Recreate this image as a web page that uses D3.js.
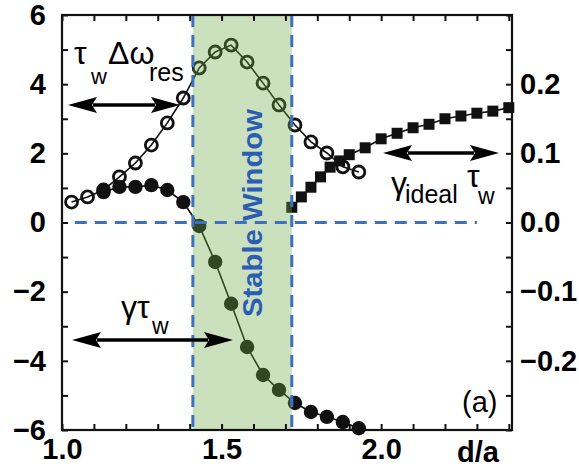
<!DOCTYPE html>
<html>
<head>
<meta charset="utf-8">
<script src="https://cdn.jsdelivr.net/npm/d3@7"></script>
<style>
  html, body { margin: 0; padding: 0; background: #ffffff; }
  svg { display: block; }
  text { font-family: "Liberation Sans", Arial, Helvetica, sans-serif; }
</style>
</head>
<body>
<svg id="chart" width="579" height="474"></svg>
<script>
// wall distance d/a sampled for the rotating-wall scan
const dOverA = [1.03, 1.08, 1.13, 1.18, 1.23, 1.28, 1.33, 1.38, 1.43, 1.48,
                1.53, 1.58, 1.63, 1.68, 1.73, 1.78, 1.83, 1.88, 1.93];
// τw Δω_res (open circles, left axis)
const resShift = [0.59, 0.74, 0.94, 1.32, 1.72, 2.24, 2.88, 3.60, 4.47, 4.93,
                  5.13, 4.64, 4.03, 3.40, 2.82, 2.33, 2.01, 1.61, 1.46];
// γ τw (filled circles, left axis); no value at the first two wall positions
const growth = [null, null, 0.88, 1.03, 1.03, 1.08, 0.94, 0.59, -0.10, -1.14,
                -2.35, -3.60, -4.41, -4.84, -5.22, -5.48, -5.62, -5.77, -5.95];
// ideal-wall growth γ_ideal τw (filled squares, right axis)
const dIdeal = [1.72, 1.75, 1.78, 1.81, 1.84, 1.87, 1.90, 1.95, 2.00, 2.05,
                2.10, 2.15, 2.20, 2.25, 2.30, 2.35, 2.40];
const idealGrowth = [0.022, 0.037, 0.051, 0.066, 0.080, 0.089, 0.098, 0.108, 0.121, 0.129,
                     0.137, 0.142, 0.150, 0.154, 0.158, 0.161, 0.166];
// stable window limits in d/a
const stableWindow = [1.41, 1.72];
// tick values and labels
const xTicks = [1.0, 1.1, 1.2, 1.3, 1.4, 1.5, 1.6, 1.7, 1.8, 1.9, 2.0, 2.1, 2.2, 2.3, 2.4];
const xLabels = [1.0, 1.5, 2.0];
const yLeftTicks = [-6, -5, -4, -3, -2, -1, 0, 1, 2, 3, 4, 5, 6];
const yLeftLabels = [-6, -4, -2, 0, 2, 4, 6];
const yRightTicks = [-0.3, -0.25, -0.2, -0.15, -0.1, -0.05, 0, 0.05, 0.1, 0.15, 0.2, 0.25, 0.3];
const yRightLabels = [-0.2, -0.1, 0.0, 0.1, 0.2];

const svg = d3.select("#chart");
const W = 579, H = 474;
const m = { left: 62, right: 67, top: 15, bottom: 44 };
const x0 = m.left, x1 = W - m.right, y0 = m.top, y1 = H - m.bottom;

const x = d3.scaleLinear().domain([1.0, 2.41]).range([x0, x1]);
const yL = d3.scaleLinear().domain([-6, 6]).range([y1, y0]);
const yR = d3.scaleLinear().domain([-0.3, 0.3]).range([y1, y0]);

svg.append("rect").attr("width", W).attr("height", H).attr("fill", "#fff");

const ink = "#111";
const blue = "#3f6fbf";

// series lines
const lineL = d3.line().defined(d => d !== null).x((d, i) => x(dOverA[i])).y(d => yL(d));
const lineR = d3.line().x((d, i) => x(dIdeal[i])).y(d => yR(d));

svg.append("path").attr("d", lineL(resShift)).attr("fill", "none")
  .attr("stroke", ink).attr("stroke-width", 1.6);
svg.append("path").attr("d", lineL(growth)).attr("fill", "none")
  .attr("stroke", ink).attr("stroke-width", 1.6);
svg.append("path").attr("d", lineR(idealGrowth)).attr("fill", "none")
  .attr("stroke", ink).attr("stroke-width", 1.6);

// filled circles
const growthPts = growth.map((v, i) => ({ d: dOverA[i], v })).filter(p => p.v !== null);
svg.append("g").selectAll("circle").data(growthPts).join("circle")
  .attr("cx", p => x(p.d)).attr("cy", p => yL(p.v)).attr("r", 7.2)
  .attr("fill", ink);
// open circles
svg.append("g").selectAll("circle").data(resShift).join("circle")
  .attr("cx", (d, i) => x(dOverA[i])).attr("cy", d => yL(d)).attr("r", 6)
  .attr("fill", "none").attr("stroke", ink).attr("stroke-width", 2.8);
// squares
svg.append("g").selectAll("rect").data(idealGrowth).join("rect")
  .attr("x", (d, i) => x(dIdeal[i]) - 5.5).attr("y", d => yR(d) - 5.5)
  .attr("width", 11).attr("height", 11).attr("fill", ink);

// stable window shading
svg.append("rect")
  .attr("x", x(stableWindow[0])).attr("y", y0)
  .attr("width", x(stableWindow[1]) - x(stableWindow[0])).attr("height", y1 - y0)
  .attr("fill", "rgb(112,168,72)").attr("fill-opacity", 0.36);

// dashed guides
const dash = "12,8";
svg.append("line").attr("x1", x(1.04)).attr("x2", x(2.30))
  .attr("y1", yL(0)).attr("y2", yL(0))
  .attr("stroke", blue).attr("stroke-width", 3).attr("stroke-dasharray", dash);
stableWindow.forEach(v => {
  svg.append("line").attr("x1", x(v)).attr("x2", x(v))
    .attr("y1", y0).attr("y2", y1)
    .attr("stroke", blue).attr("stroke-width", 3).attr("stroke-dasharray", dash);
});

// axes with inward ticks
const fontSize = 29;
const sans = "Liberation Sans, Arial, sans-serif";
const serif = "Liberation Serif, Times New Roman, serif";
function styleAxis(g) {
  g.select(".domain").remove();
  g.selectAll(".tick line").attr("stroke", ink).attr("stroke-width", 2);
  g.selectAll(".tick text").attr("font-size", fontSize).attr("font-weight", "bold")
    .attr("font-family", sans).attr("fill", "#000");
}
svg.append("g").attr("transform", `translate(0,${y1})`)
  .call(d3.axisBottom(x).tickValues(xTicks).tickSize(-6).tickFormat(""))
  .call(styleAxis);
svg.append("g").attr("transform", `translate(0,${y1})`)
  .call(d3.axisBottom(x).tickValues(xLabels).tickSize(0).tickPadding(8).tickFormat(d3.format(".1f")))
  .call(styleAxis);
svg.append("g").attr("transform", `translate(0,${y0})`)
  .call(d3.axisTop(x).tickValues(xTicks).tickSize(-6).tickFormat(""))
  .call(styleAxis);
svg.append("g").attr("transform", `translate(${x0},0)`)
  .call(d3.axisLeft(yL).tickValues(yLeftTicks).tickSize(-6).tickFormat(""))
  .call(styleAxis);
svg.append("g").attr("transform", `translate(${x0},0)`)
  .call(d3.axisLeft(yL).tickValues(yLeftLabels).tickSize(0).tickPadding(16).tickFormat(d3.format("d")))
  .call(styleAxis);
svg.append("g").attr("transform", `translate(${x1},0)`)
  .call(d3.axisRight(yR).tickValues(yRightTicks).tickSize(-6).tickFormat(""))
  .call(styleAxis);
svg.append("g").attr("transform", `translate(${x1},0)`)
  .call(d3.axisRight(yR).tickValues(yRightLabels).tickSize(0).tickPadding(8).tickFormat(d3.format(".1f")))
  .call(styleAxis);

// frame
svg.append("rect").attr("x", x0).attr("y", y0).attr("width", x1 - x0).attr("height", y1 - y0)
  .attr("fill", "none").attr("stroke", ink).attr("stroke-width", 2.2);

// double-headed arrows
function arrow(xa, xb, yy) {
  const head = 29, half = 8;
  svg.append("line").attr("x1", xa + head - 4).attr("x2", xb - head + 4)
    .attr("y1", yy).attr("y2", yy).attr("stroke", "#000").attr("stroke-width", 3.6);
  svg.append("path").attr("fill", "#000")
    .attr("d", `M${xa},${yy} L${xa + head},${yy - half} L${xa + head - 5},${yy} L${xa + head},${yy + half} Z`);
  svg.append("path").attr("fill", "#000")
    .attr("d", `M${xb},${yy} L${xb - head},${yy - half} L${xb - head + 5},${yy} L${xb - head},${yy + half} Z`);
}
arrow(68, 180, 105);
arrow(383, 499, 153);
arrow(72, 233, 340);

// symbol labels: [x, y, text, serif?, size]
function label(parts) {
  parts.forEach(p => {
    svg.append("text").attr("x", p[0]).attr("y", p[1])
      .attr("font-family", p[3] ? serif : sans).attr("font-size", p[4])
      .attr("fill", "#000").text(p[2]);
  });
}
// τw Δω_res
label([[74, 64, "τ", true, 32], [91, 84, "w", false, 22], [108, 64, "Δω", true, 32], [149, 81, "res", false, 25]]);
// γ τw
label([[121, 318, "γτ", true, 32], [152, 334, "w", false, 23]]);
// γ_ideal τw
label([[391, 194, "γ", true, 32], [405, 203, "ideal", false, 25], [467, 187, "τ", true, 32], [478, 204, "w", false, 23]]);

svg.append("text").attr("x", 462).attr("y", 412).attr("font-size", 29)
  .attr("font-family", sans).attr("fill", "#000").text("(a)");
svg.append("text").attr("x", 457).attr("y", 462).attr("font-size", 29)
  .attr("font-family", sans).attr("font-weight", "bold").attr("fill", "#000").text("d/a");

const cx = (x(stableWindow[0]) + x(stableWindow[1])) / 2;
svg.append("text")
  .attr("transform", `translate(${cx + 20},213) rotate(-90)`)
  .attr("text-anchor", "middle").attr("font-size", 27).attr("font-weight", "bold")
  .attr("font-family", sans).attr("fill", "#2a5db3")
  .attr("textLength", 208).attr("lengthAdjust", "spacingAndGlyphs")
  .text("Stable Window");
</script>
</body>
</html>
